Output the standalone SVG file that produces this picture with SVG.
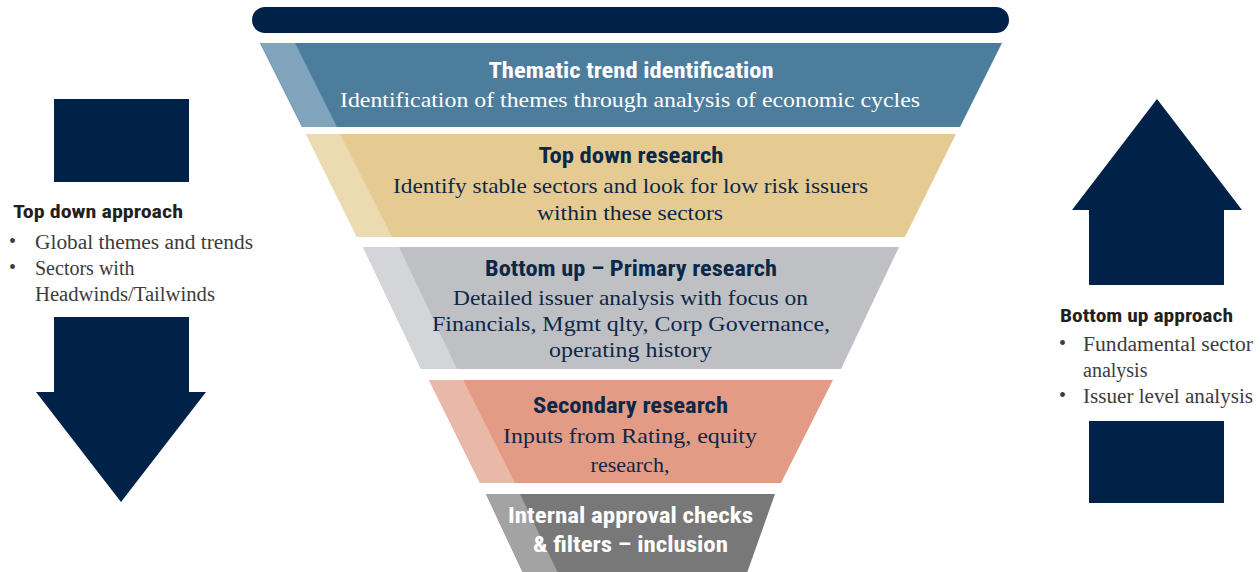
<svg xmlns="http://www.w3.org/2000/svg" width="1260" height="572" viewBox="0 0 1260 572">
<defs>
<style>
.ttl{font-family:"Liberation Sans Narrow","Roboto Condensed","Liberation Sans",sans-serif;font-weight:bold;font-size:22px;text-anchor:middle}
.sub{font-family:"Liberation Serif","DejaVu Serif",serif;font-size:22px;text-anchor:middle}
.hd{font-family:"Liberation Sans Narrow","Roboto Condensed","Liberation Sans",sans-serif;font-weight:bold;font-size:19px;fill:#231f20}
.bl{font-family:"Liberation Serif","DejaVu Serif",serif;font-size:20px;fill:#3c3c3c}
.w{fill:#ffffff}
.n{fill:#0c2748}
.navy{fill:#012248}
</style>
</defs>
<rect x="252" y="7" width="757" height="26" rx="13" ry="13" class="navy"/>

<g id="layer1">
<polygon points="260,43 1002,43 960,127 302,127" fill="#4d7d9c"/>
<polygon points="260,43 295,43 337,127 302,127" fill="#7fa4bc"/>
<text class="ttl w" x="631" y="78" textLength="285" lengthAdjust="spacingAndGlyphs">Thematic trend identification</text>
<text class="sub w" x="630" y="107" textLength="580" lengthAdjust="spacingAndGlyphs">Identification of themes through analysis of economic cycles</text>
</g>

<g id="layer2">
<polygon points="306,134 956,134 905,237 357,237" fill="#e5cb92"/>
<polygon points="306,134 340,134 392,237 357,237" fill="#ecdbb1"/>
<text class="ttl n" x="631" y="163" textLength="185" lengthAdjust="spacingAndGlyphs">Top down research</text>
<text class="sub n" x="630.5" y="193" textLength="475" lengthAdjust="spacingAndGlyphs">Identify stable sectors and look for low risk issuers</text>
<text class="sub n" x="630" y="220" textLength="186" lengthAdjust="spacingAndGlyphs">within these sectors</text>
</g>

<g id="layer3">
<polygon points="363,247 899,247 841,369 421,369" fill="#bfc0c4"/>
<polygon points="363,247 399,247 457,369 421,369" fill="#d4d5d8"/>
<text class="ttl n" x="631" y="276" textLength="292" lengthAdjust="spacingAndGlyphs">Bottom up – Primary research</text>
<text class="sub n" x="630.5" y="305" textLength="355" lengthAdjust="spacingAndGlyphs">Detailed issuer analysis with focus on</text>
<text class="sub n" x="631" y="331" textLength="398" lengthAdjust="spacingAndGlyphs">Financials, Mgmt qlty, Corp Governance,</text>
<text class="sub n" x="630.5" y="357" textLength="163" lengthAdjust="spacingAndGlyphs">operating history</text>
</g>

<g id="layer4">
<polygon points="429,380 833,380 781,483 480,483" fill="#e39b85"/>
<polygon points="429,380 463,380 515,483 480,483" fill="#eab8a8"/>
<text class="ttl n" x="630.5" y="413" textLength="195" lengthAdjust="spacingAndGlyphs">Secondary research</text>
<text class="sub n" x="630" y="443" textLength="254" lengthAdjust="spacingAndGlyphs">Inputs from Rating, equity</text>
<text class="sub n" x="630" y="472">research,</text>
</g>

<g id="layer5">
<polygon points="486,494 775,494 747,573 523,573" fill="#787878"/>
<polygon points="486,494 520,494 558,573 523,573" fill="#a3a3a3"/>
<text class="ttl w" x="630.5" y="523" textLength="245" lengthAdjust="spacingAndGlyphs">Internal approval checks</text>
<text class="ttl w" x="630.5" y="552" textLength="195" lengthAdjust="spacingAndGlyphs">&amp; filters – inclusion</text>
</g>

<g id="top-down">
<rect x="54" y="99" width="135" height="83" class="navy"/>
<polygon points="54,317 189,317 189,392 206,392 121,502 36,392 54,392" class="navy"/>
<text class="hd" x="13" y="218" textLength="170" lengthAdjust="spacingAndGlyphs">Top down approach</text>
<text class="bl" x="9" y="248">•</text>
<text class="bl" x="35" y="249" textLength="218" lengthAdjust="spacingAndGlyphs">Global themes and trends</text>
<text class="bl" x="9" y="274">•</text>
<text class="bl" x="35" y="275">Sectors with</text>
<text class="bl" x="35" y="301" textLength="180" lengthAdjust="spacingAndGlyphs">Headwinds/Tailwinds</text>
</g>

<g id="bottom-up">
<polygon points="1157,99 1242,210 1224,210 1224,285 1089,285 1089,210 1072,210" class="navy"/>
<rect x="1089" y="421" width="135" height="82" class="navy"/>
<text class="hd" x="1060" y="322" textLength="173" lengthAdjust="spacingAndGlyphs">Bottom up approach</text>
<text class="bl" x="1059" y="350">•</text>
<text class="bl" x="1083" y="351" textLength="170" lengthAdjust="spacingAndGlyphs">Fundamental sector</text>
<text class="bl" x="1083" y="377">analysis</text>
<text class="bl" x="1059" y="402">•</text>
<text class="bl" x="1083" y="403" textLength="170" lengthAdjust="spacingAndGlyphs">Issuer level analysis</text>
</g>

<g id="connectors"></g>
</svg>
